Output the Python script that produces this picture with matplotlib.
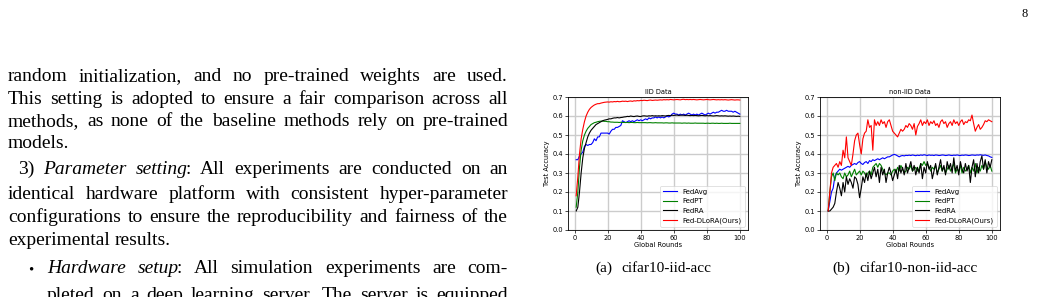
import matplotlib
matplotlib.use('Agg')
import matplotlib.pyplot as plt

W, H = 1041, 297

rounds = list(range(1, 101))

# IID Data
iid_fedavg = [0.37, 0.37, 0.39, 0.40, 0.41, 0.44, 0.45, 0.445, 0.45, 0.45,
              0.46, 0.48, 0.47, 0.49, 0.49, 0.51, 0.51, 0.51, 0.51, 0.51,
              0.505, 0.52, 0.53, 0.53, 0.54, 0.54, 0.545, 0.55, 0.575, 0.57,
              0.565, 0.57, 0.575, 0.57, 0.575, 0.57, 0.575, 0.58, 0.575, 0.58,
              0.575, 0.58, 0.585, 0.58, 0.59, 0.585, 0.59, 0.59, 0.595, 0.59,
              0.595, 0.59, 0.595, 0.59, 0.595, 0.60, 0.595, 0.60, 0.61, 0.615,
              0.61, 0.61, 0.605, 0.61, 0.605, 0.61, 0.605, 0.61, 0.615, 0.61,
              0.605, 0.61, 0.605, 0.61, 0.605, 0.61, 0.615, 0.61, 0.605, 0.61,
              0.615, 0.61, 0.615, 0.62, 0.615, 0.62, 0.62, 0.625, 0.63, 0.625,
              0.625, 0.63, 0.625, 0.625, 0.625, 0.62, 0.625, 0.62, 0.615, 0.61]
iid_fedpt = [0.12, 0.20, 0.33, 0.42, 0.47, 0.50, 0.52, 0.535, 0.545, 0.555,
             0.56, 0.565, 0.567, 0.57, 0.572, 0.573, 0.573, 0.572, 0.572, 0.57,
             0.57, 0.568, 0.568, 0.567, 0.567, 0.567, 0.566, 0.567, 0.566, 0.566,
             0.566, 0.566, 0.565, 0.566, 0.566, 0.565, 0.565, 0.566, 0.565, 0.565,
             0.565, 0.565, 0.565, 0.564, 0.565, 0.565, 0.564, 0.564, 0.565, 0.564,
             0.564, 0.564, 0.564, 0.563, 0.564, 0.564, 0.563, 0.563, 0.564, 0.563,
             0.563, 0.563, 0.563, 0.563, 0.562, 0.563, 0.563, 0.562, 0.563, 0.562,
             0.562, 0.562, 0.563, 0.562, 0.562, 0.562, 0.562, 0.562, 0.561, 0.562,
             0.562, 0.561, 0.562, 0.562, 0.561, 0.562, 0.561, 0.561, 0.562, 0.561,
             0.561, 0.561, 0.561, 0.562, 0.561, 0.561, 0.561, 0.561, 0.561, 0.561]
iid_fedra = [0.10, 0.12, 0.20, 0.30, 0.38, 0.43, 0.46, 0.49, 0.51, 0.525,
             0.535, 0.545, 0.555, 0.56, 0.565, 0.57, 0.575, 0.578, 0.58, 0.582,
             0.585, 0.585, 0.588, 0.59, 0.59, 0.592, 0.59, 0.592, 0.593, 0.595,
             0.596, 0.598, 0.597, 0.60, 0.598, 0.597, 0.599, 0.60, 0.598, 0.597,
             0.60, 0.601, 0.60, 0.599, 0.601, 0.60, 0.602, 0.60, 0.601, 0.60,
             0.601, 0.60, 0.602, 0.601, 0.60, 0.602, 0.603, 0.602, 0.604, 0.603,
             0.604, 0.605, 0.603, 0.604, 0.605, 0.604, 0.603, 0.604, 0.603, 0.602,
             0.603, 0.602, 0.603, 0.602, 0.601, 0.602, 0.603, 0.602, 0.601, 0.602,
             0.601, 0.602, 0.601, 0.600, 0.601, 0.602, 0.601, 0.600, 0.601, 0.600,
             0.601, 0.600, 0.599, 0.600, 0.599, 0.600, 0.599, 0.598, 0.599, 0.598]
iid_dlora = [0.18, 0.28, 0.40, 0.48, 0.53, 0.57, 0.60, 0.62, 0.635, 0.645,
             0.652, 0.658, 0.662, 0.665, 0.665, 0.668, 0.67, 0.672, 0.673, 0.674,
             0.673, 0.675, 0.674, 0.676, 0.675, 0.677, 0.675, 0.676, 0.678, 0.677,
             0.678, 0.676, 0.678, 0.679, 0.677, 0.68, 0.679, 0.681, 0.68, 0.682,
             0.681, 0.683, 0.682, 0.681, 0.683, 0.684, 0.682, 0.683, 0.684, 0.683,
             0.684, 0.685, 0.684, 0.686, 0.685, 0.686, 0.685, 0.687, 0.686, 0.685,
             0.686, 0.687, 0.686, 0.685, 0.687, 0.688, 0.686, 0.687, 0.686, 0.687,
             0.686, 0.687, 0.686, 0.685, 0.686, 0.687, 0.686, 0.685, 0.686, 0.687,
             0.686, 0.685, 0.686, 0.687, 0.686, 0.685, 0.686, 0.685, 0.686, 0.685,
             0.686, 0.685, 0.684, 0.685, 0.686, 0.685, 0.684, 0.685, 0.685, 0.684]

# non-IID Data
noniid_fedavg = [0.10, 0.15, 0.20, 0.22, 0.28, 0.30, 0.31, 0.32, 0.315, 0.32,
                 0.325, 0.33, 0.335, 0.33, 0.34, 0.345, 0.35, 0.345, 0.355, 0.36,
                 0.35, 0.345, 0.355, 0.36, 0.35, 0.365, 0.36, 0.37, 0.365, 0.37,
                 0.375, 0.37, 0.375, 0.38, 0.375, 0.38, 0.385, 0.385, 0.39, 0.395,
                 0.398, 0.395, 0.39, 0.385, 0.39, 0.392, 0.39, 0.393, 0.392, 0.394,
                 0.392, 0.395, 0.393, 0.391, 0.394, 0.392, 0.395, 0.393, 0.396, 0.394,
                 0.392, 0.395, 0.393, 0.394, 0.392, 0.395, 0.394, 0.392, 0.393, 0.395,
                 0.394, 0.392, 0.393, 0.395, 0.393, 0.392, 0.394, 0.393, 0.395, 0.393,
                 0.392, 0.394, 0.393, 0.395, 0.394, 0.392, 0.393, 0.395, 0.394, 0.393,
                 0.395, 0.394, 0.396, 0.394, 0.393, 0.395, 0.392, 0.39, 0.385, 0.382]
noniid_fedpt = [0.10, 0.20, 0.28, 0.30, 0.26, 0.30, 0.29, 0.30, 0.28, 0.27,
                0.30, 0.28, 0.29, 0.31, 0.28, 0.30, 0.32, 0.29, 0.30, 0.31,
                0.29, 0.31, 0.30, 0.28, 0.30, 0.31, 0.29, 0.33, 0.34, 0.35,
                0.33, 0.35, 0.34, 0.32, 0.30, 0.29, 0.30, 0.30, 0.29, 0.31,
                0.32, 0.30, 0.33, 0.31, 0.34, 0.32, 0.30, 0.31, 0.33, 0.32,
                0.34, 0.31, 0.32, 0.33, 0.31, 0.32, 0.35, 0.34, 0.36, 0.34,
                0.35, 0.33, 0.31, 0.33, 0.32, 0.34, 0.30, 0.32, 0.34, 0.31,
                0.33, 0.30, 0.32, 0.34, 0.31, 0.33, 0.35, 0.30, 0.32, 0.31,
                0.34, 0.30, 0.33, 0.31, 0.32, 0.34, 0.30, 0.33, 0.31, 0.35,
                0.30, 0.33, 0.31, 0.34, 0.32, 0.36, 0.33, 0.32, 0.34, 0.31]
noniid_fedra = [0.10, 0.10, 0.11, 0.12, 0.14, 0.20, 0.25, 0.22, 0.18, 0.25,
                0.20, 0.28, 0.24, 0.27, 0.25, 0.22, 0.28, 0.27, 0.24, 0.17,
                0.22, 0.28, 0.25, 0.30, 0.26, 0.31, 0.27, 0.30, 0.33, 0.28,
                0.32, 0.25, 0.33, 0.29, 0.32, 0.25, 0.30, 0.33, 0.30, 0.26,
                0.29, 0.32, 0.27, 0.34, 0.30, 0.33, 0.29, 0.35, 0.30, 0.33,
                0.36, 0.31, 0.34, 0.29, 0.33, 0.30, 0.35, 0.27, 0.33, 0.30,
                0.36, 0.32, 0.34, 0.27, 0.31, 0.35, 0.29, 0.33, 0.37, 0.31,
                0.34, 0.29, 0.36, 0.32, 0.35, 0.30, 0.38, 0.31, 0.34, 0.29,
                0.36, 0.32, 0.30, 0.35, 0.31, 0.34, 0.25, 0.33, 0.37, 0.28,
                0.35, 0.30, 0.36, 0.39, 0.32, 0.37, 0.30, 0.36, 0.33, 0.37]
noniid_dlora = [0.10, 0.20, 0.30, 0.33, 0.34, 0.35, 0.33, 0.36, 0.34, 0.42,
                0.38, 0.49, 0.38, 0.36, 0.34, 0.40, 0.47, 0.50, 0.51, 0.45,
                0.40, 0.48, 0.51, 0.52, 0.58, 0.54, 0.55, 0.42, 0.58, 0.55,
                0.57, 0.55, 0.58, 0.56, 0.57, 0.54, 0.57, 0.58, 0.55, 0.52,
                0.51, 0.50, 0.49, 0.51, 0.53, 0.52, 0.53, 0.55, 0.54, 0.56,
                0.55, 0.53, 0.56, 0.50, 0.545, 0.56, 0.58, 0.55, 0.57, 0.56,
                0.58, 0.55, 0.57, 0.56, 0.575, 0.55, 0.56, 0.54, 0.57, 0.58,
                0.56, 0.57, 0.54, 0.56, 0.57, 0.55, 0.58, 0.56, 0.57, 0.55,
                0.57, 0.58, 0.555, 0.57, 0.565, 0.58, 0.575, 0.605, 0.56, 0.52,
                0.54, 0.555, 0.53, 0.54, 0.555, 0.575, 0.57, 0.58, 0.575, 0.57]

labels = ['FedAvg', 'FedPT', 'FedRA', 'Fed-DLoRA(Ours)']
colors = ['blue', 'green', 'black', 'red']
y_ticks = [0.0, 0.1, 0.2, 0.3, 0.4, 0.5, 0.6, 0.7]
x_ticks = [0, 20, 40, 60, 80, 100]

body_lines = [
    ("random initialization, and no pre-trained weights are used.", 8, 81, True),
    ("This setting is adopted to ensure a fair comparison across all", 8, 104, True),
    ("methods, as none of the baseline methods rely on pre-trained", 8, 126, True),
    ("models.", 8, 148, False),
    ("3) *Parameter setting*: All experiments are conducted on an", 18, 174, True),
    ("identical hardware platform with consistent hyper-parameter", 8, 199, True),
    ("configurations to ensure the reproducibility and fairness of the", 8, 222, True),
    ("experimental results.", 8, 245, False),
    ("*Hardware setup*: All simulation experiments are com-", 47, 273, True),
    ("pleted on a deep learning server. The server is equipped", 47, 300, True),
]

FS = 14.0
SERIF = 'Liberation Serif'
TICK_FS = 4.8
LEG_FS = 5.0

fig = plt.figure(figsize=(W / 100, H / 100), dpi=100)
renderer = fig.canvas.get_renderer()


def put_line(text, x0, y, justify, right=508):
    # split into words, each word a list of (segment, italic) pieces
    italic = False
    words = []
    for w in text.split(' '):
        segs = []
        cur = ''
        for ch in w:
            if ch == '*':
                if cur:
                    segs.append((cur, italic))
                cur = ''
                italic = not italic
            else:
                cur += ch
        if cur:
            segs.append((cur, italic))
        words.append(segs)

    arts = []
    widths = []
    for segs in words:
        pieces = []
        total = 0
        for i, (s, it) in enumerate(segs):
            t = fig.text(0, 1 - y / H, s, fontsize=FS, family=SERIF,
                         style='italic' if it else 'normal',
                         va='baseline', ha='left')
            w = t.get_window_extent(renderer).width
            if it and i < len(segs) - 1:
                w -= 2  # italic overhang before roman punctuation
            pieces.append((t, w))
            total += w
        arts.append(pieces)
        widths.append(total)

    if justify and len(words) > 1:
        gap = (right - x0 - sum(widths)) / (len(words) - 1)
    else:
        gap = FS * 100 / 72 * 0.25
    x = x0
    for pieces, ww in zip(arts, widths):
        xx = x
        for t, w in pieces:
            t.set_x(xx / W)
            xx += w
        x += ww + gap


for text, x0, y, just in body_lines:
    put_line(text, x0, y, just)

# bullet
fig.text(31 / W, 1 - 273 / H, '\u2022', fontsize=FS * 0.75, family=SERIF,
         va='baseline', ha='center')

# page number
fig.text(1025 / W, 1 - 17 / H, '8', fontsize=9, family=SERIF,
         va='baseline', ha='center')


def draw_panel(left_px, title, series):
    ax = fig.add_axes([left_px / W, (H - 230) / H, 180 / W, 133 / H])
    for ys, lab, col in zip(series, labels, colors):
        ax.plot(rounds, ys, color=col, lw=0.8, label=lab)
    ax.set_ylim(0, 0.7)
    ax.set_yticks(y_ticks)
    ax.set_xticks(x_ticks)
    ax.grid(True, color='0.8', lw=1.0)
    ax.set_axisbelow(True)
    ax.tick_params(labelsize=TICK_FS, length=2, width=0.5, pad=1.5)
    for sp in ax.spines.values():
        sp.set_linewidth(0.6)
    ax.set_title(title, fontsize=TICK_FS, pad=2)
    ax.set_xlabel('Global Rounds', fontsize=TICK_FS, labelpad=1)
    ax.set_ylabel('Test Accuracy', fontsize=TICK_FS, labelpad=1.5)
    leg = ax.legend(loc='lower right', fontsize=LEG_FS, borderaxespad=0.5)
    leg.get_frame().set_linewidth(0.5)
    return ax


draw_panel(568, 'IID Data', [iid_fedavg, iid_fedpt, iid_fedra, iid_dlora])
draw_panel(820, 'non-IID Data', [noniid_fedavg, noniid_fedpt, noniid_fedra, noniid_dlora])

# sub-captions
cap_y = 1 - 272 / H
fig.text(595 / W, cap_y, '(a)', fontsize=11, family=SERIF, va='baseline', ha='left')
fig.text(621 / W, cap_y, 'cifar10-iid-acc', fontsize=11, family=SERIF, va='baseline', ha='left')
fig.text(832 / W, cap_y, '(b)', fontsize=11, family=SERIF, va='baseline', ha='left')
fig.text(859 / W, cap_y, 'cifar10-non-iid-acc', fontsize=11, family=SERIF, va='baseline', ha='left')

fig.savefig('out.png', dpi=100)
